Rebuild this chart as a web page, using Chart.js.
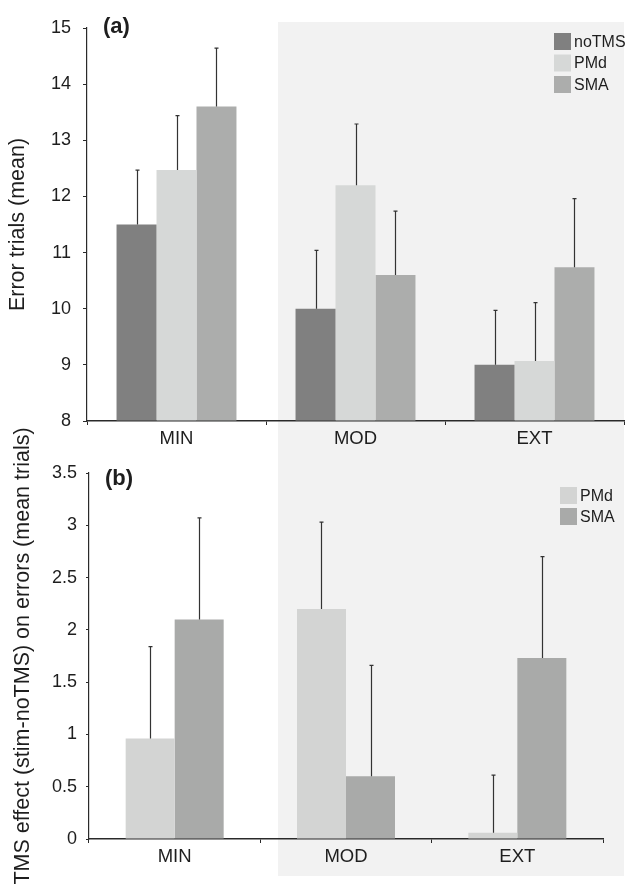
<!DOCTYPE html>
<html>
<head>
<meta charset="utf-8">
<script src="https://cdn.jsdelivr.net/npm/chart.js@4.4.1/dist/chart.umd.min.js"></script>
<style>
  html, body { margin: 0; padding: 0; background: #ffffff; }
  #wrap { position: relative; width: 628px; height: 889px; overflow: hidden; }
  canvas { position: absolute; left: 0; top: 0; }
</style>
</head>
<body>
<div id="wrap">
  <canvas id="chartA" width="628" height="889"></canvas>
  <canvas id="chartB" width="628" height="889"></canvas>
</div>
<script>
// ---------- data ----------
const categories = ['MIN', 'MOD', 'EXT'];

// panel (a): error trials (mean)
const aNoTMS = [11.5, 10.0, 9.0];
const aPMd   = [12.47, 12.2, 9.07];
const aSMA   = [13.6, 10.6, 10.74];
const aNoTMSErr = [0.97, 1.04, 0.97];
const aPMdErr   = [0.97, 1.09, 1.04];
const aSMAErr   = [1.04, 1.14, 1.22];
const aTicks = [8, 9, 10, 11, 12, 13, 14, 15];

// panel (b): TMS effect (stim - noTMS)
const bPMd = [0.96, 2.2, 0.06];
const bSMA = [2.1, 0.6, 1.73];
const bPMdErr = [0.88, 0.83, 0.55];
const bSMAErr = [0.97, 1.06, 0.97];
const bTicks = [0, 0.5, 1, 1.5, 2, 2.5, 3, 3.5];

const seriesNames = ['noTMS', 'PMd', 'SMA'];

// ---------- styles ----------
const FONT = "'Liberation Sans', Arial, Helvetica, sans-serif";
const TXT = '#1e1e1e';
const AX = '#2a2a2a';
const colNoTMS = '#808080';
const colPMdA = '#d6d8d7';
const colSMAA = '#acadac';
const colPMdB = '#d3d4d3';
const colSMAB = '#a9aaa9';

// ---------- plugins ----------
const bgPlugin = {
  id: 'bgShade',
  beforeDraw(chart, args, opts) {
    if (!opts.enabled) return;
    const ctx = chart.ctx;
    ctx.save();
    ctx.fillStyle = '#ffffff';
    ctx.fillRect(0, 0, chart.width, chart.height);
    ctx.fillStyle = opts.color;
    const r = opts.rect;
    ctx.fillRect(r[0], r[1], r[2], r[3]);
    ctx.restore();
  }
};

const errPlugin = {
  id: 'errBars',
  afterDatasetsDraw(chart, args, opts) {
    const ctx = chart.ctx;
    const yScale = chart.scales.y;
    ctx.save();
    ctx.strokeStyle = opts.color;
    ctx.lineWidth = opts.width;
    chart.data.datasets.forEach((ds, di) => {
      const meta = chart.getDatasetMeta(di);
      if (!ds.errors) return;
      meta.data.forEach((el, i) => {
        const v = ds.data[i];
        const e = ds.errors[i];
        const x = Math.round(el.x) + 0.5;
        const y0 = el.y;
        const y1 = yScale.getPixelForValue(v + e);
        ctx.beginPath();
        ctx.moveTo(x, y0);
        ctx.lineTo(x, y1);
        ctx.moveTo(x - opts.cap, y1);
        ctx.lineTo(x + opts.cap, y1);
        ctx.stroke();
      });
    });
    ctx.restore();
  }
};

const labelPlugin = {
  id: 'panelLabels',
  afterDraw(chart, args, opts) {
    const ctx = chart.ctx;
    ctx.save();
    // panel letter
    ctx.fillStyle = TXT;
    ctx.font = 'bold ' + opts.letterSize + 'px ' + FONT;
    ctx.textBaseline = 'alphabetic';
    ctx.textAlign = 'left';
    ctx.fillText(opts.letter, opts.letterPos[0], opts.letterPos[1]);
    // legend
    ctx.font = opts.legendSize + 'px ' + FONT;
    ctx.textBaseline = 'middle';
    chart.data.datasets.forEach((ds, i) => {
      const y = opts.legendTop + i * opts.legendStep;
      ctx.fillStyle = ds.backgroundColor;
      ctx.fillRect(opts.legendX, y, opts.box, opts.box);
      ctx.fillStyle = TXT;
      ctx.fillText(ds.label, opts.legendX + opts.box + 3, y + opts.box / 2 + 1);
    });
    ctx.restore();
  }
};

function fixWidth(w) { return (scale) => { scale.width = w; }; }
function fixHeight(h) { return (scale) => { scale.height = h; }; }
const plainTick = (v) => String(v);

// ---------- chart (a) ----------
new Chart(document.getElementById('chartA'), {
  type: 'bar',
  data: {
    labels: categories,
    datasets: [
      { label: seriesNames[0], data: aNoTMS, errors: aNoTMSErr, backgroundColor: colNoTMS },
      { label: seriesNames[1], data: aPMd, errors: aPMdErr, backgroundColor: colPMdA },
      { label: seriesNames[2], data: aSMA, errors: aSMAErr, backgroundColor: colSMAA }
    ]
  },
  options: {
    responsive: false,
    animation: false,
    devicePixelRatio: 1,
    layout: { padding: { left: 0, right: 4, top: 28, bottom: 438 } },
    datasets: { bar: { categoryPercentage: 0.67, barPercentage: 1.0, borderWidth: 0, base: aTicks[0] } },
    plugins: {
      legend: { display: false },
      tooltip: { enabled: false },
      bgShade: { enabled: true, color: '#f2f2f2', rect: [278, 22, 346, 854] },
      errBars: { color: '#333333', width: 1.2, cap: 2 },
      panelLabels: {
        letter: '(a)', letterSize: 22, letterPos: [103, 33],
        legendSize: 16, legendX: 554, legendTop: 33, legendStep: 21.5, box: 17
      }
    },
    scales: {
      x: {
        afterFit: fixHeight(30),
        grid: { display: true, drawOnChartArea: false, drawTicks: true, tickLength: 4, color: AX, offset: true },
        border: { display: true, color: AX, width: 1.5 },
        ticks: { color: TXT, font: { family: FONT, size: 18.5 }, padding: 3 }
      },
      y: {
        min: aTicks[0], max: aTicks[aTicks.length - 1],
        afterFit: fixWidth(87),
        afterBuildTicks: (s) => { s.ticks = aTicks.map(v => ({ value: v })); },
        grid: { display: true, drawOnChartArea: false, drawTicks: true, tickLength: 4, color: AX },
        border: { display: true, color: AX, width: 1.2 },
        ticks: { color: TXT, font: { family: FONT, size: 18 }, padding: 12, callback: plainTick },
        title: { display: true, text: 'Error trials (mean)', color: TXT, font: { family: FONT, size: 21.5 }, padding: { top: 5, bottom: 0 } }
      }
    }
  },
  plugins: [bgPlugin, errPlugin, labelPlugin]
});

// ---------- chart (b) ----------
new Chart(document.getElementById('chartB'), {
  type: 'bar',
  data: {
    labels: categories,
    datasets: [
      { label: seriesNames[1], data: bPMd, errors: bPMdErr, backgroundColor: colPMdB },
      { label: seriesNames[2], data: bSMA, errors: bSMAErr, backgroundColor: colSMAB }
    ]
  },
  options: {
    responsive: false,
    animation: false,
    devicePixelRatio: 1,
    layout: { padding: { left: 0, right: 25, top: 473, bottom: 20 } },
    datasets: { bar: { categoryPercentage: 0.572, barPercentage: 1.0, borderWidth: 0 } },
    plugins: {
      legend: { display: false },
      tooltip: { enabled: false },
      bgShade: { enabled: false },
      errBars: { color: '#333333', width: 1.2, cap: 2 },
      panelLabels: {
        letter: '(b)', letterSize: 22, letterPos: [105, 485],
        legendSize: 16, legendX: 560, legendTop: 487, legendStep: 21, box: 17
      }
    },
    scales: {
      x: {
        afterFit: fixHeight(30),
        grid: { display: true, drawOnChartArea: false, drawTicks: true, tickLength: 4, color: AX, offset: true },
        border: { display: true, color: AX, width: 1.5 },
        ticks: { color: TXT, font: { family: FONT, size: 18.5 }, padding: 3 }
      },
      y: {
        min: bTicks[0], max: bTicks[bTicks.length - 1],
        afterFit: fixWidth(89),
        afterBuildTicks: (s) => { s.ticks = bTicks.map(v => ({ value: v })); },
        grid: { display: true, drawOnChartArea: false, drawTicks: true, tickLength: 3, color: AX },
        border: { display: true, color: AX, width: 1.2 },
        ticks: { color: TXT, font: { family: FONT, size: 18 }, padding: 9, callback: plainTick },
        title: { display: true, text: 'TMS effect (stim-noTMS) on errors (mean trials)', color: TXT, font: { family: FONT, size: 21.5 }, padding: { top: 10, bottom: 0 } }
      }
    }
  },
  plugins: [bgPlugin, errPlugin, labelPlugin]
});
</script>
</body>
</html>
